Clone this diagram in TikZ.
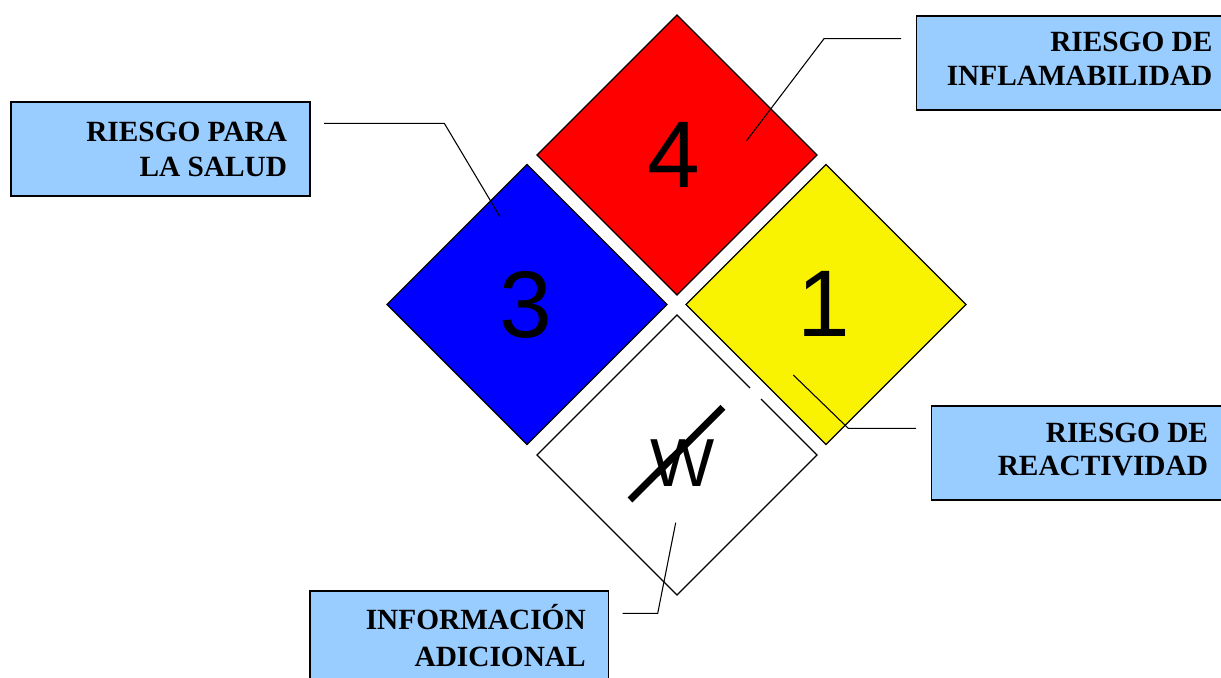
\documentclass[tikz,border=0pt]{standalone}
\usepackage{fontspec}
\newfontfamily\arialf{Liberation Sans}
\newfontfamily\timesf{Liberation Serif}
\definecolor{lblue}{HTML}{99CCFF}
\definecolor{nred}{HTML}{FF0000}
\definecolor{nblue}{HTML}{0000FF}
\definecolor{nyellow}{HTML}{F9F200}
\begin{document}
\begin{tikzpicture}[x=0.75pt,y=-0.75pt,
  diam/.style={draw=black,line width=0.9pt,line join=miter},
  lbox/.style={draw=black,line width=1.3pt,fill=lblue,inner sep=0pt,anchor=north west},
  lbl/.style={anchor=base east,inner sep=0pt,font=\timesf\bfseries\fontsize{22}{26}\selectfont},
  num/.style={anchor=base,inner sep=0pt,font=\arialf\fontsize{71}{71}\selectfont},
  lead/.style={draw=black,line width=0.8pt}]
\useasboundingbox (0,0) rectangle (1221,678);
\clip (0,0) rectangle (1221,678);
\fill[white] (0,0) rectangle (1221,678);

% diamonds
\draw[diam,fill=nred] (677,15) -- (817,155) -- (677,295) -- (537,155) -- cycle;
\draw[diam,fill=nblue] (527,164.5) -- (667,304.5) -- (527,444.5) -- (387,304.5) -- cycle;
\draw[diam,fill=nyellow] (826,164.5) -- (966,304.5) -- (826,444.5) -- (686,304.5) -- cycle;
\fill[white] (677,315) -- (817,455) -- (677,595) -- (537,455) -- cycle;
\draw[diam] (750,388) -- (677,315) -- (537,455) -- (677,595) -- (817,455) -- (761,399);

% numbers
\node[num] (n4) at (674,187.3) {4};
\node[num] (n3) at (526,337) {3};
\node[num] (n1) at (824,336.5) {1};
\node[anchor=base,inner sep=0pt,font=\arialf\fontsize{51}{51}\selectfont] (w) at (682.5,486) {W};
\coordinate (s1) at (630,500);
\coordinate (s2) at (723,407.3);
\draw[line width=5.2pt,black] (s1) -- (s2);

% label boxes
\node[lbox,minimum width=224.5pt,minimum height=70.7pt] (hbox) at (10,101) {};
\node[lbox,minimum width=243pt,minimum height=70.5pt] (fbox) at (915.7,15) {};
\node[lbox,minimum width=232pt,minimum height=70.5pt] (rbox) at (930.7,405) {};
\node[lbox,minimum width=223.8pt,minimum height=82.5pt] (ibox) at (309.3,590) {};

\node[lbl] (h1) at (287.3,141) {RIESGO PARA};
\node[lbl] (h2) at (287.3,176.7) {LA SALUD};
\node[lbl] (f1) at (1212.7,51.7) {RIESGO DE};
\node[lbl] (f2) at (1212.7,85.7) {INFLAMABILIDAD};
\node[lbl] (r1) at (1208.3,442.3) {RIESGO DE};
\node[lbl] (r2) at (1208.3,475) {REACTIVIDAD};
\node[lbl] (i1) at (586,629.3) {INFORMACIÓN};
\node[lbl] (i2) at (586,666) {ADICIONAL};

% leaders
\coordinate (ha) at (324,123.3);
\coordinate (hb) at (444.3,123.3);
\coordinate (hc) at (500,216.7);
\draw[lead] (ha) -- (hb) -- (hc);
\coordinate (fa) at (901,38.7);
\coordinate (fb) at (824,38.7);
\coordinate (fc) at (746.6,140.7);
\draw[lead] (fa) -- (fb) -- (fc);
\coordinate (ra) at (916,428.3);
\coordinate (rb) at (848.3,428.3);
\coordinate (rc) at (793.3,375);
\draw[lead] (ra) -- (rb) -- (rc);
\coordinate (ia) at (622.7,613.3);
\coordinate (ib) at (657.7,613.3);
\coordinate (ic) at (675.7,522.7);
\draw[lead] (ia) -- (ib) -- (ic);
\end{tikzpicture}
\end{document}
